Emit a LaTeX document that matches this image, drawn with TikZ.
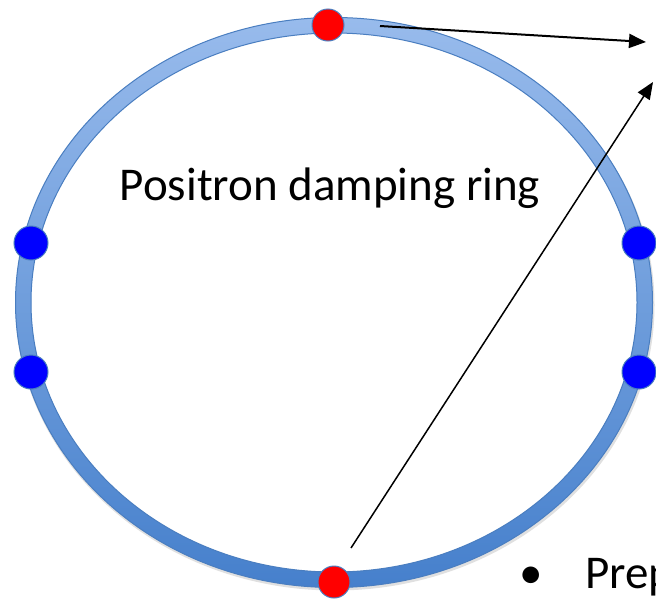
\documentclass[tikz,border=0pt]{standalone}
\usepackage{fontspec}
\setmainfont{Carlito}
\usetikzlibrary{arrows.meta}
\definecolor{ringtop}{HTML}{98BBEC}
\definecolor{ringbot}{HTML}{4680CC}
\definecolor{ringedge}{HTML}{4A7EC0}
\tikzset{
  dotbase/.style={circle, inner sep=0pt, line width=1pt},
  reddot/.style={dotbase, fill=red, draw=ringedge, minimum size=32pt},
  bluedot/.style={dotbase, fill=blue, draw=ringedge, minimum size=34pt},
  arrowline/.style={black, -{Triangle[length=17pt,width=14pt]}},
  bigtext/.style={font=\fontsize{47}{54}\selectfont, inner sep=0pt}
}
\begin{document}
\begin{tikzpicture}[x=1pt,y=-1pt]
\path[use as bounding box] (0,0) rectangle (656,600);
\clip (0,0) rectangle (656,600);
\fill[white] (0,0) rectangle (656,600);
% faint shadow
\draw[black!12, line width=3pt] (335,305) ellipse [x radius=318pt, y radius=284pt];
% ring band
\shade[top color=ringtop, bottom color=ringbot, even odd rule]
  (334,302.5) ellipse [x radius=318.5pt, y radius=285pt]
  (334,302.5) ellipse [x radius=303pt, y radius=269.5pt];
\draw[ringedge, line width=1pt] (334,302.5) ellipse [x radius=318.5pt, y radius=285pt];
\draw[ringedge, line width=1pt] (334,302.5) ellipse [x radius=303pt, y radius=269.5pt];
% dots
\node[reddot] (rtop) at (328,25) {};
\node[reddot] (rbot) at (334,582) {};
\node[bluedot] (bl1) at (31,243) {};
\node[bluedot] (bl2) at (31,372) {};
\node[bluedot] (br1) at (639,243) {};
\node[bluedot] (br2) at (639,372) {};
% label
\node[bigtext, anchor=base] (title) at (330,200) {Positron damping ring};
\node[bigtext, anchor=base] (bul) at (531,588) {•};
\node[bigtext, anchor=base west] (prep) at (585,588) {Prep};
% arrows
\coordinate (a1s) at (380,26);
\coordinate (a1e) at (646,42);
\coordinate (a2s) at (351,548);
\coordinate (a2e) at (653,82);
\draw[arrowline, line width=2pt] (a1s) -- (a1e);
\draw[arrowline, line width=1.5pt] (a2s) -- (a2e);
\end{tikzpicture}
\end{document}
